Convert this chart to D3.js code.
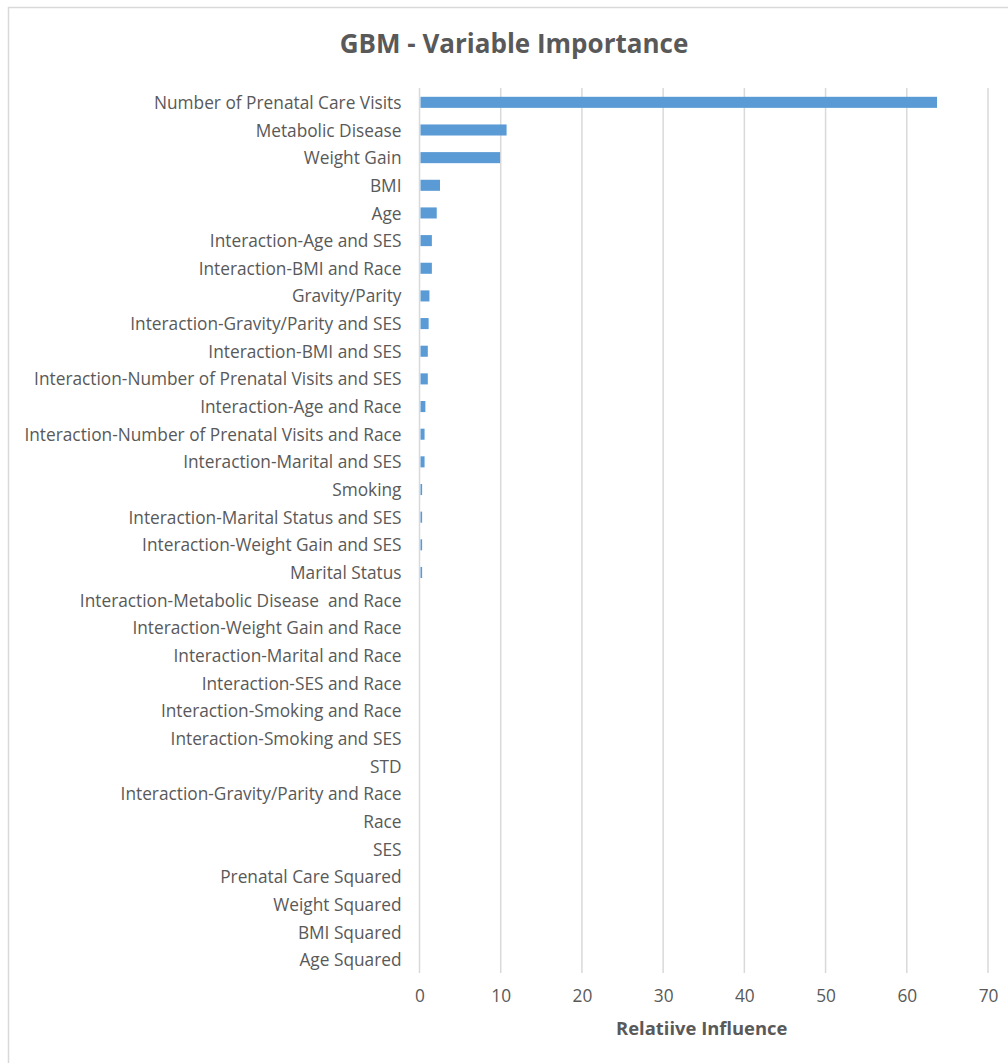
<!DOCTYPE html>
<html>
<head>
<meta charset="utf-8">
<script src="https://cdn.jsdelivr.net/npm/d3@7"></script>
<style>
  html, body { margin: 0; padding: 0; background: #fff; }
  svg { display: block; }
  text { font-family: "Open Sans", Lato, sans-serif; white-space: pre; }
</style>
</head>
<body>
<svg id="chart" width="1008" height="1063"></svg>
<script>
// Variable names, top to bottom
const variables = [
  "Number of Prenatal Care Visits",
  "Metabolic Disease",
  "Weight Gain",
  "BMI",
  "Age",
  "Interaction-Age and SES",
  "Interaction-BMI and Race",
  "Gravity/Parity",
  "Interaction-Gravity/Parity and SES",
  "Interaction-BMI and SES",
  "Interaction-Number of Prenatal Visits and SES",
  "Interaction-Age and Race",
  "Interaction-Number of Prenatal Visits and Race",
  "Interaction-Marital and SES",
  "Smoking",
  "Interaction-Marital Status and SES",
  "Interaction-Weight Gain and SES",
  "Marital Status",
  "Interaction-Metabolic Disease  and Race",
  "Interaction-Weight Gain and Race",
  "Interaction-Marital and Race",
  "Interaction-SES and Race",
  "Interaction-Smoking and Race",
  "Interaction-Smoking and SES",
  "STD",
  "Interaction-Gravity/Parity and Race",
  "Race",
  "SES",
  "Prenatal Care Squared",
  "Weight Squared",
  "BMI Squared",
  "Age Squared"
];

// Relative influence of each variable
const influence = [
  63.6, 10.6, 9.8, 2.4, 2.0, 1.4, 1.4, 1.1, 1.0, 0.9, 0.9, 0.6, 0.5, 0.5,
  0.2, 0.2, 0.2, 0.2, 0, 0, 0, 0, 0, 0, 0, 0, 0, 0, 0, 0, 0, 0
];

const xTicks = [0, 10, 20, 30, 40, 50, 60, 70];
const chartTitle = "GBM - Variable Importance";
const xAxisTitle = "Relatiive Influence";

const svg = d3.select("#chart");
const textColor = "#595959";

// Chart frame
svg.append("rect")
  .attr("x", 8.5).attr("y", 7.5)
  .attr("width", 1100).attr("height", 1100)
  .attr("fill", "#fff")
  .attr("stroke", "#d9d9d9")
  .attr("stroke-width", 1.5);

const plot = { left: 419.5, right: 988, top: 88, bottom: 973 };

const x = d3.scaleLinear().domain([0, 70]).range([plot.left, plot.right]);
const y = d3.scaleBand()
  .domain(variables)
  .range([plot.top, plot.bottom])
  .paddingInner(0.6)
  .paddingOuter(0.3);

// Vertical gridlines
svg.append("g")
  .selectAll("line")
  .data(xTicks)
  .join("line")
  .attr("x1", d => x(d)).attr("x2", d => x(d))
  .attr("y1", plot.top).attr("y2", plot.bottom)
  .attr("stroke", "#d9d9d9")
  .attr("stroke-width", 1.5);

// Bars
svg.append("g")
  .selectAll("rect")
  .data(variables.map((v, i) => ({ name: v, value: influence[i] })))
  .join("rect")
  .attr("x", x(0) + 1)
  .attr("y", d => y(d.name) + 0.5)
  .attr("width", d => Math.max(0, x(d.value) - x(0)))
  .attr("height", y.bandwidth())
  .attr("fill", "#5b9bd5");

// Category labels
const yAxis = d3.axisLeft(y).tickSize(0).tickPadding(18);
const gy = svg.append("g")
  .attr("transform", `translate(${plot.left},1.5)`)
  .call(yAxis);
gy.select(".domain").remove();
gy.selectAll("text")
  .attr("fill", textColor)
  .style("font-size", "17.3px");

// Value axis labels
const xAxis = d3.axisBottom(x).tickValues(xTicks).tickSize(0).tickPadding(17);
const gx = svg.append("g")
  .attr("transform", `translate(0,${plot.bottom})`)
  .call(xAxis);
gx.select(".domain").remove();
gx.selectAll("text")
  .attr("fill", textColor)
  .style("font-size", "17.3px");

// Titles
svg.append("text")
  .attr("x", 514).attr("y", 53)
  .attr("text-anchor", "middle")
  .attr("fill", textColor)
  .style("font-size", "26px")
  .style("font-weight", "bold")
  .text(chartTitle);

svg.append("text")
  .attr("x", (plot.left + plot.right) / 2 - 2).attr("y", 1035)
  .attr("text-anchor", "middle")
  .attr("fill", textColor)
  .style("font-size", "18.4px")
  .style("font-weight", "bold")
  .text(xAxisTitle);
</script>
</body>
</html>
